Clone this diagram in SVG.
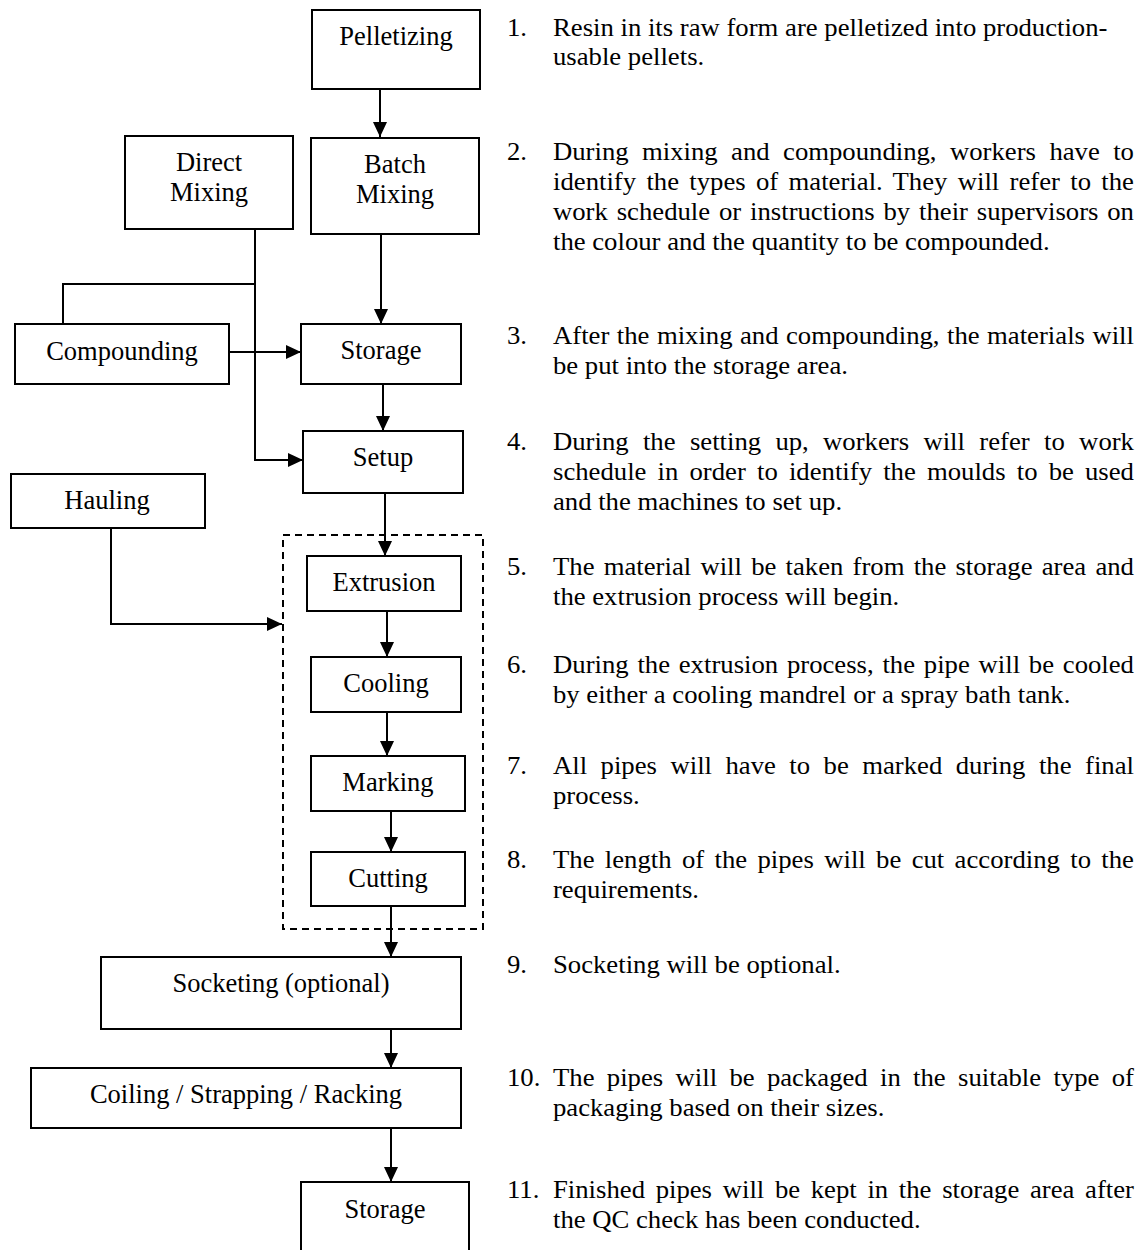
<svg xmlns="http://www.w3.org/2000/svg" width="1147" height="1250" viewBox="0 0 1147 1250">
<style>
.box{fill:#fff;stroke:#000;stroke-width:2}
.dash{fill:none;stroke:#000;stroke-width:2;stroke-dasharray:7 5}
.lbl{font-family:"Liberation Serif","Times New Roman",serif;font-size:26.5px;fill:#000;text-anchor:middle}
.con{fill:none;stroke:#000;stroke-width:2}
.t{font-family:"Liberation Serif","Times New Roman",serif;font-size:26px;fill:#000}
</style>
<defs>
<marker id="ah" viewBox="0 0 15 14" refX="15" refY="7" markerWidth="15" markerHeight="14" markerUnits="userSpaceOnUse" orient="auto"><path d="M0,0 L15,7 L0,14 Z" fill="#000"/></marker>
</defs>
<rect fill="#fff" x="0" y="0" width="1147" height="1250"/>
<g id="connectors">
<path class="con" d="M380,89 V137" marker-end="url(#ah)"/>
<path class="con" d="M381,234 V324" marker-end="url(#ah)"/>
<path class="con" d="M229,352 H301" marker-end="url(#ah)"/>
<path class="con" d="M255,229 V460 H303" marker-end="url(#ah)"/>
<path class="con" d="M255,284 H63 V324"/>
<path class="con" d="M383,384 V431" marker-end="url(#ah)"/>
<path class="con" d="M385,493 V556" marker-end="url(#ah)"/>
<path class="con" d="M111,528 V624 H282" marker-end="url(#ah)"/>
<path class="con" d="M387,611 V657" marker-end="url(#ah)"/>
<path class="con" d="M387,712 V756" marker-end="url(#ah)"/>
<path class="con" d="M391,811 V852" marker-end="url(#ah)"/>
<path class="con" d="M391,906 V957" marker-end="url(#ah)"/>
<path class="con" d="M391,1029 V1068" marker-end="url(#ah)"/>
<path class="con" d="M391,1128 V1182" marker-end="url(#ah)"/>
</g>
<g id="group-extrusion"><rect class="dash" x="283" y="535" width="200" height="394"/></g>
<g id="pelletizing"><rect class="box" x="312" y="10" width="168" height="79"/><text class="lbl" x="396" y="45">Pelletizing</text></g>
<g id="batch-mixing"><rect class="box" x="311" y="138" width="168" height="96"/><text class="lbl" x="395" y="173">Batch</text><text class="lbl" x="395" y="203">Mixing</text></g>
<g id="direct-mixing"><rect class="box" x="125" y="136" width="168" height="93"/><text class="lbl" x="209" y="171">Direct</text><text class="lbl" x="209" y="201">Mixing</text></g>
<g id="compounding"><rect class="box" x="15" y="324" width="214" height="60"/><text class="lbl" x="122" y="360">Compounding</text></g>
<g id="storage-1"><rect class="box" x="301" y="324" width="160" height="60"/><text class="lbl" x="381" y="359">Storage</text></g>
<g id="setup"><rect class="box" x="303" y="431" width="160" height="62"/><text class="lbl" x="383" y="466">Setup</text></g>
<g id="hauling"><rect class="box" x="11" y="474" width="194" height="54"/><text class="lbl" x="107" y="509">Hauling</text></g>
<g id="extrusion"><rect class="box" x="307" y="556" width="154" height="55"/><text class="lbl" x="384" y="591">Extrusion</text></g>
<g id="cooling"><rect class="box" x="311" y="657" width="150" height="55"/><text class="lbl" x="386" y="692">Cooling</text></g>
<g id="marking"><rect class="box" x="311" y="756" width="154" height="55"/><text class="lbl" x="388" y="791">Marking</text></g>
<g id="cutting"><rect class="box" x="311" y="852" width="154" height="54"/><text class="lbl" x="388" y="887">Cutting</text></g>
<g id="socketing"><rect class="box" x="101" y="957" width="360" height="72"/><text class="lbl" x="281" y="992">Socketing (optional)</text></g>
<g id="coiling"><rect class="box" x="31" y="1068" width="430" height="60"/><text class="lbl" x="246" y="1103">Coiling / Strapping / Racking</text></g>
<g id="storage-2"><rect class="box" x="301" y="1182" width="168" height="90"/><text class="lbl" x="385" y="1218">Storage</text></g>
<g id="notes" transform="matrix(1.027,0,0,1,-14.93,0)">
<text class="t" x="508.2" y="36">1.</text>
<text class="t" x="553" y="36">Resin in its raw form are pelletized into production-</text>
<text class="t" x="553" y="65">usable pellets.</text>
<text class="t" x="508.2" y="160">2.</text>
<text class="t" x="553" y="160" word-spacing="6.55" textLength="565.7" lengthAdjust="spacing">During mixing and compounding, workers have to</text>
<text class="t" x="553" y="190" word-spacing="3.48" textLength="565.7" lengthAdjust="spacing">identify the types of material. They will refer to the</text>
<text class="t" x="553" y="220" word-spacing="2.1" textLength="565.7" lengthAdjust="spacing">work schedule or instructions by their supervisors on</text>
<text class="t" x="553" y="250">the colour and the quantity to be compounded.</text>
<text class="t" x="508.2" y="344">3.</text>
<text class="t" x="553" y="344" word-spacing="0.76" textLength="565.7" lengthAdjust="spacing">After the mixing and compounding, the materials will</text>
<text class="t" x="553" y="374">be put into the storage area.</text>
<text class="t" x="508.2" y="450">4.</text>
<text class="t" x="553" y="450" word-spacing="7.44" textLength="565.7" lengthAdjust="spacing">During the setting up, workers will refer to work</text>
<text class="t" x="553" y="480" word-spacing="4.37" textLength="565.7" lengthAdjust="spacing">schedule in order to identify the moulds to be used</text>
<text class="t" x="553" y="510">and the machines to set up.</text>
<text class="t" x="508.2" y="575">5.</text>
<text class="t" x="553" y="575" word-spacing="2.44" textLength="565.7" lengthAdjust="spacing">The material will be taken from the storage area and</text>
<text class="t" x="553" y="605">the extrusion process will begin.</text>
<text class="t" x="508.2" y="673">6.</text>
<text class="t" x="553" y="673" word-spacing="2.0" textLength="565.7" lengthAdjust="spacing">During the extrusion process, the pipe will be cooled</text>
<text class="t" x="553" y="703">by either a cooling mandrel or a spray bath tank.</text>
<text class="t" x="508.2" y="774">7.</text>
<text class="t" x="553" y="774" word-spacing="6.6" textLength="565.7" lengthAdjust="spacing">All pipes will have to be marked during the final</text>
<text class="t" x="553" y="804">process.</text>
<text class="t" x="508.2" y="868">8.</text>
<text class="t" x="553" y="868" word-spacing="3.57" textLength="565.7" lengthAdjust="spacing">The length of the pipes will be cut according to the</text>
<text class="t" x="553" y="898">requirements.</text>
<text class="t" x="508.2" y="973">9.</text>
<text class="t" x="553" y="973">Socketing will be optional.</text>
<text class="t" x="508.2" y="1086">10.</text>
<text class="t" x="553" y="1086" word-spacing="5.49" textLength="565.7" lengthAdjust="spacing">The pipes will be packaged in the suitable type of</text>
<text class="t" x="553" y="1116">packaging based on their sizes.</text>
<text class="t" x="508.2" y="1198">11.</text>
<text class="t" x="553" y="1198" word-spacing="3.89" textLength="565.7" lengthAdjust="spacing">Finished pipes will be kept in the storage area after</text>
<text class="t" x="553" y="1228">the QC check has been conducted.</text>
</g>
</svg>
